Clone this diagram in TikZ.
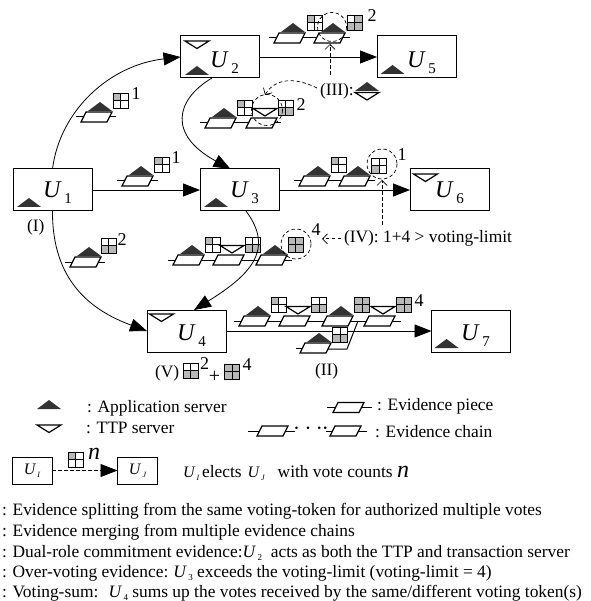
\documentclass[tikz,border=0pt]{standalone}
\usepackage{fontspec}
\setmainfont{Liberation Serif}
\usetikzlibrary{arrows.meta}
\definecolor{cg}{gray}{0.72}
\definecolor{cw}{gray}{1}
\definecolor{dk}{gray}{0.2}
\newcommand{\fs}[1]{\fontsize{#1}{#1}\selectfont}
\newcommand{\us}[1]{\textit{U}\raisebox{-3.5pt}{\fs{9}\,#1}}
\newcommand{\ul}[1]{{\fs{24}\itshape U}\hspace{4pt}\raisebox{-6pt}{\fs{15}#1}}
\newcommand{\ulsmall}[1]{{\fs{16}\itshape U}\hspace{2pt}\raisebox{-3pt}{\fs{8}\itshape #1}}
\newcommand{\app}[2]{\fill[dk] (#1-12,#2)--(#1,#2-9)--(#1+12,#2)--cycle;}
\newcommand{\ttp}[2]{\draw[line width=1.2pt,fill=white,line join=miter] (#1-12,#2)--(#1+12,#2)--(#1,#2+7.5)--cycle;}
\newcommand{\para}[2]{\draw[line width=1.2pt,fill=white] (#1,#2)--(#1+26,#2)--(#1+31,#2-10)--(#1+5,#2-10)--cycle;}
\newcommand{\eva}[2]{\para{#1}{#2}\app{#1+19}{#2-11}}
\newcommand{\evt}[2]{\para{#1}{#2}\ttp{#1+19}{#2-19.5}}
\newcommand{\bal}[6]{%
  \fill[#3] (#1,#2) rectangle (#1+7.5,#2+7.5);
  \fill[#4] (#1+7.5,#2) rectangle (#1+15,#2+7.5);
  \fill[#5] (#1,#2+7.5) rectangle (#1+7.5,#2+15);
  \fill[#6] (#1+7.5,#2+7.5) rectangle (#1+15,#2+15);
  \draw[line width=0.7pt] (#1,#2) rectangle (#1+15,#2+15) (#1+7.5,#2)--(#1+7.5,#2+15) (#1,#2+7.5)--(#1+15,#2+7.5);}
\newcommand{\linkh}[3]{\draw[line width=1pt] (#1,#3)--(#2,#3);}
\tikzset{
  boxn/.style={draw,line width=1pt,fill=white,minimum width=79pt,minimum height=42pt,inner sep=0pt,outer sep=0pt},
  smallbox/.style={draw,line width=0.8pt,fill=white,minimum width=40pt,minimum height=27pt,inner sep=0pt,outer sep=0pt},
  conn/.style={line width=0.9pt,-{Triangle[length=17pt,width=13pt]}},
  curve/.style={line width=0.8pt,-{Triangle[length=17pt,width=13pt]}},
  dasharr/.style={line width=0.7pt,dash pattern=on 3.5pt off 2.5pt,-{Straight Barb[length=5pt,width=10pt]}},
  dcirc/.style={line width=0.7pt,dash pattern=on 3.5pt off 2.5pt},
  lab/.style={inner sep=0pt,outer sep=0pt,anchor=base west,font=\fs{17.4}},
  txt/.style={inner sep=0pt,outer sep=0pt,anchor=base west,font=\fs{17.4}},
  num/.style={inner sep=0pt,outer sep=0pt,font=\fs{18}},
  ulab/.style={inner sep=0pt,outer sep=0pt,anchor=base west},
}
\begin{document}
\begin{tikzpicture}[x=1pt,y=-1pt]
\useasboundingbox (0,0) rectangle (590,601);
% boxes
\node[boxn] (u1) at (52.5,190) {};
\node[boxn] (u2) at (220,57) {};
\node[boxn] (u5) at (416.5,57) {};
\node[boxn] (u3) at (239.5,190) {};
\node[boxn] (u6) at (449.5,190) {};
\node[boxn] (u4) at (186.5,331) {};
\node[boxn] (u7) at (471,331) {};
\node[ulab] (lu1) at (43,198) {\ul{1}};
\node[ulab] (lu2) at (210,68) {\ul{2}};
\node[ulab] (lu3) at (230,198) {\ul{3}};
\node[ulab] (lu4) at (177,340) {\ul{4}};
\node[ulab] (lu5) at (407,68) {\ul{5}};
\node[ulab] (lu6) at (435,198) {\ul{6}};
\node[ulab] (lu7) at (461,340) {\ul{7}};
\app{29}{207}
\app{197}{75}\ttp{197}{41}
\app{392.5}{74}
\app{216}{207}
\ttp{425.5}{174}
\ttp{161.5}{314}
\app{446.5}{348}
% straight connectors
\draw[conn] (u1.east)--(u3.west);
\draw[conn] (u2.east)--(u5.west);
\draw[conn] (u3.east)--(u6.west);
\draw[conn] (u4.east)--(u7.west);
% evidence U1-U2
\linkh{76}{116}{117}\eva{81}{122}\bal{113}{93}{cg}{cw}{cw}{cw}
\node[num] (n1) at (136,94) {1};
% U1-U3
\linkh{117}{158}{181}\eva{122}{186}\bal{154.5}{157}{cg}{cw}{cw}{cw}
\node[num] (n2) at (176,158) {1};
% U1-U4
\linkh{65}{105}{262}\eva{70}{267}\bal{101}{238}{cw}{cw}{cg}{cg}
\node[num] (n3) at (122,240) {2};
% top chain
\linkh{269}{350}{38}\eva{274}{43}\bal{307}{15}{cg}{cw}{cw}{cw}\eva{314}{43}\bal{347}{15}{cw}{cg}{cg}{cg}
\node[num] (n4) at (372,16) {2};
\draw[dcirc] (332,27) circle (14.5);
% second chain
\linkh{200}{281}{123}\eva{205}{128}\bal{237}{100}{cg}{cw}{cw}{cw}\evt{246}{128}\bal{278}{100}{cw}{cw}{cg}{cg}
\node[num] (n5) at (301,105) {2};
\draw[dcirc] (267,110) circle (15.5);
% third chain
\linkh{294}{375}{181}\eva{299}{186}\bal{331}{157}{cg}{cw}{cw}{cw}\eva{339}{186}\bal{371.5}{158}{cw}{cw}{cg}{cw}
\node[num] (n6) at (402,155) {1};
\draw[dcirc] (382,164) circle (15);
% fourth chain
\linkh{168}{292}{260}\eva{173}{265}\bal{205}{237}{cg}{cw}{cw}{cw}\evt{213}{265}\bal{245}{237}{cw}{cw}{cg}{cg}\eva{256}{265}
\bal{288}{237}{cg}{cg}{cg}{cg}
\node[num] (n7) at (316,230) {4};
\draw[dcirc] (296,244) circle (15);
% curves
\draw[curve] (u1.north) .. controls (60,110) and (110,65) .. (u2.west);
\draw[curve] ([xshift=-8pt]u2.south) .. controls (175,100) and (168,135) .. ([xshift=-9pt]u3.north);
\draw[curve] (u1.south) .. controls (52,280) and (90,310) .. (u4.west);
\draw[curve] ([xshift=6.5pt]u3.south) .. controls (275,250) and (250,275) .. ([xshift=7.5pt]u4.north);
% fifth chain
\draw[line width=1pt] (328,349)--(347,349)--(358,321);
\linkh{234}{401}{321}\eva{239}{326}\bal{271}{297}{cg}{cw}{cw}{cw}\evt{279}{326}\bal{311.5}{297}{cw}{cw}{cg}{cg}\eva{322}{326}\bal{354.5}{297}{cg}{cg}{cg}{cg}\evt{364}{326}\bal{396.5}{297}{cg}{cg}{cg}{cg}
\node[num] (n8) at (419,301) {4};
\linkh{296}{305}{348}\eva{300}{353}\bal{332.5}{327}{cw}{cw}{cg}{cg}
% annotations
\node[lab] (lI) at (27,232) {(I)};
\node[lab] (lII) at (315,375) {(II)};
\node[lab] (lV) at (155,377) {(V)};
\bal{183}{363}{cw}{cw}{cg}{cg}
\node[num] (n9) at (204.5,364) {2};
\node[inner sep=0pt,font=\fs{20}] (plus) at (214.5,376.5) {+};
\bal{224.5}{364}{cg}{cg}{cg}{cg}
\node[num] (n10) at (247,365) {4};
\node[lab] (lIII) at (320,96) {(III):};
\app{367}{91}\ttp{367}{92.5}
\coordinate (cIII) at (317,88);
\coordinate (eIII) at (265,95);
\coordinate (sIIIb) at (330,75);
\coordinate (eIIIb) at (330,44);
\draw[dasharr] (sIIIb)--(eIIIb);
\draw[dasharr] (cIII) .. controls (295,77) and (275,78) .. (eIII);
\node[lab] (lIV) at (344,243) {(IV): 1+4 > voting-limit};
\draw[dasharr] (lIV.west)++(-3,0)--++(-19,0);
\coordinate (sIVb) at (382,225);
\coordinate (eIVb) at (382,180);
\draw[dasharr] (sIVb)--(eIVb);
% legend
\app{49}{409}\node[txt] (tapp) at (87,412) {: Application server};
\ttp{49}{425}\node[txt] (tttp) at (86,433) {: TTP server};
\linkh{327}{372}{407.5}\para{333}{412.5}
\node[txt] (tpiece) at (377,410) {: Evidence piece};
\linkh{248}{295}{431}\para{257}{436}
\node[inner sep=0pt,font=\fs{24}] (dots) at (311,429) {$\cdot\hspace{-1pt}\cdot\hspace{-1pt}\cdot\hspace{-1pt}\cdot$};
\linkh{326}{367}{431}\para{330}{436}
\node[txt] (tchain) at (375,437) {: Evidence chain};
\node[smallbox] (ui) at (32,470.5) {\ulsmall{I}};
\node[smallbox] (uj) at (137.5,470.5) {\ulsmall{J}};
\draw[line width=0.8pt,dash pattern=on 3.5pt off 2.5pt,-{Triangle[length=17pt,width=13pt]}] (ui)--(uj);
\bal{68}{452}{cg}{cw}{cw}{cw}
\node[inner sep=0pt,font=\fs{24}\itshape] (nn) at (94,454) {n};
\node[txt] (tel) at (183,477) {\ulsmall{I}\,elects\,\,\ulsmall{J}\,\,\, with vote counts {\fs{24}\itshape n}};
% bottom text
\node[txt] (b1) at (2,515) {: Evidence splitting from the same voting-token for authorized multiple votes};
\node[txt] (b2) at (2,536) {: Evidence merging from multiple evidence chains};
\node[txt] (b3) at (2,557) {: Dual-role commitment evidence:\us{2}\ \ acts as both the TTP and transaction server};
\node[txt] (b4) at (2,577) {: Over-voting evidence:\hspace{5pt}\us{3} exceeds the voting-limit (voting-limit = 4)};
\node[txt] (b5) at (2,597) {: Voting-sum: \ \us{4} sums up the votes received by the same/different voting token(s)};
\end{tikzpicture}
\end{document}
